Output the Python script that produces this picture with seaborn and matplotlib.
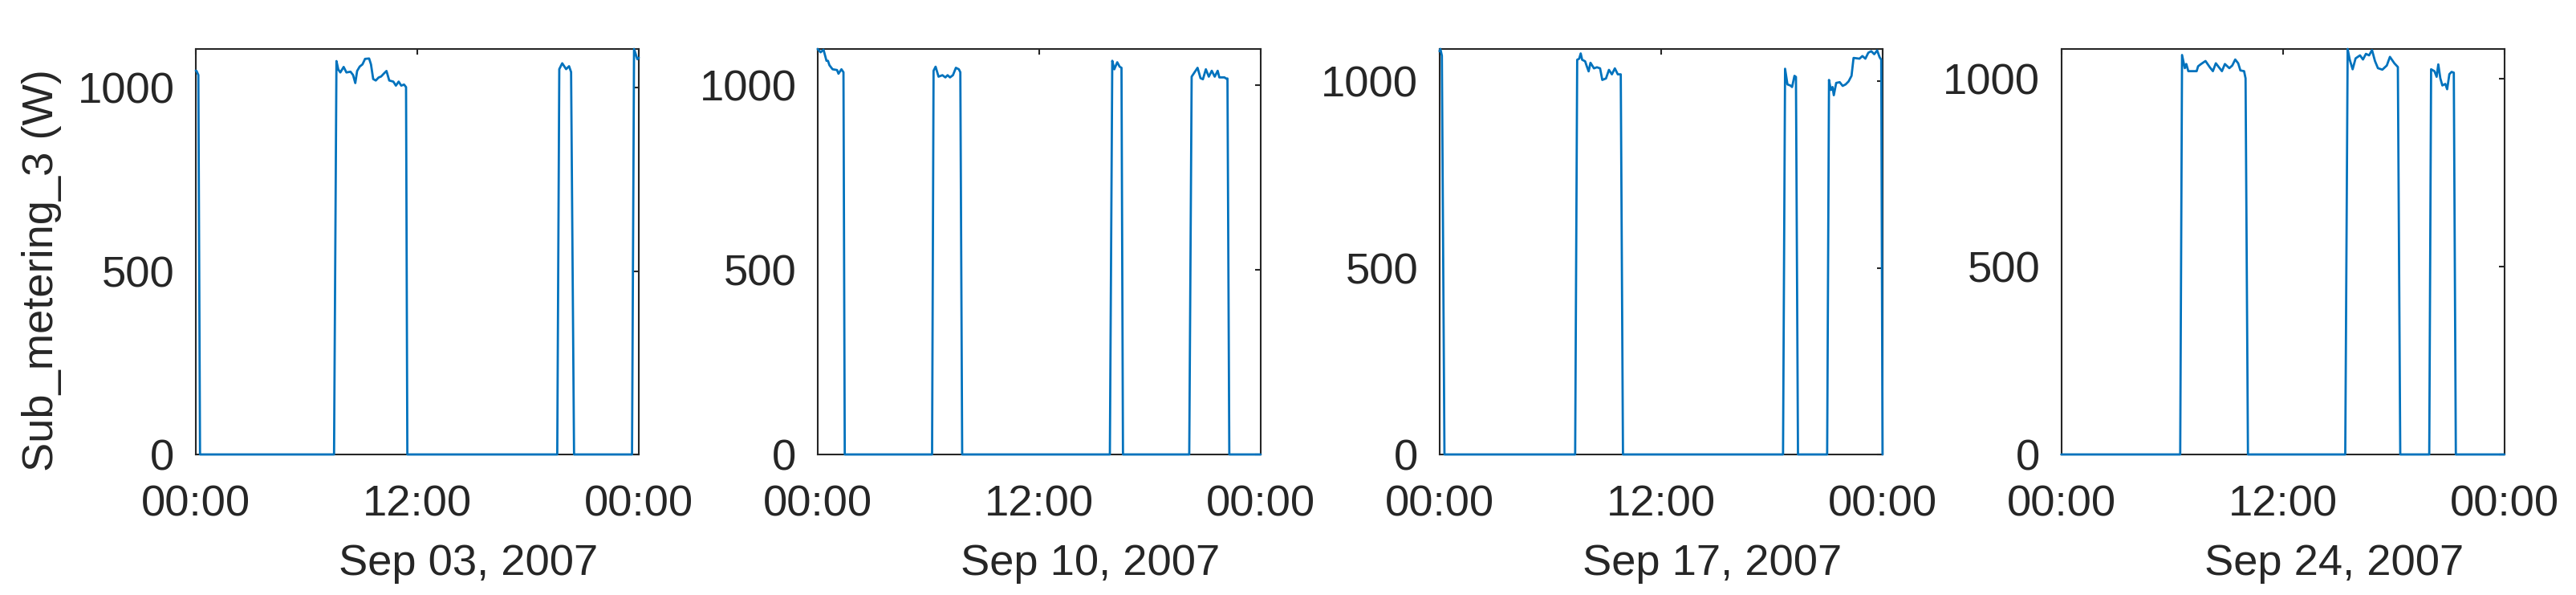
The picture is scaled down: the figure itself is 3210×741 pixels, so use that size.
import numpy as np
import pandas as pd
import matplotlib
matplotlib.use("Agg")
import matplotlib.pyplot as plt
import seaborn as sns

# day labels and hour ticks
days = ["Sep 03, 2007", "Sep 10, 2007", "Sep 17, 2007", "Sep 24, 2007"]
hour_ticks = [0, 12, 24]
hour_labels = ["00:00", "12:00", "00:00"]
watt_ticks = [0, 500, 1000]

# Sub_metering_3 readings (hour of day, watts)
hours_0903 = [0.00, 0.04, 0.14, 0.23, 7.49, 7.62, 7.72, 7.83, 8.01, 8.16, 8.38, 8.52, 8.64,
              8.74, 8.88, 9.03, 9.17, 9.39, 9.49, 9.61, 9.75, 9.90, 10.04, 10.19, 10.33,
              10.48, 10.70, 10.84, 10.99, 11.13, 11.28, 11.39, 11.46, 19.58, 19.69, 19.85,
              20.06, 20.22, 20.33, 20.49, 23.63, 23.74, 23.92, 24.00]
watts_0903 = [1047, 1046, 1035, 0, 0, 1073, 1050, 1042, 1057, 1042, 1044, 1035, 1013,
              1046, 1058, 1064, 1079, 1080, 1064, 1024, 1020, 1028, 1031, 1039, 1046,
              1020, 1017, 1006, 1017, 1006, 1009, 1002, 0, 0, 1051, 1067,
              1051, 1059, 1043, 0, 0, 1106, 1078, 1082]

hours_0910 = [0.00, 0.16, 0.32, 0.48, 0.56, 0.64, 0.81, 1.05, 1.13, 1.29, 1.40, 1.47,
              6.20, 6.28, 6.39, 6.55, 6.76, 6.92, 7.04, 7.17, 7.33, 7.49, 7.65, 7.73, 7.83,
              15.83, 15.96, 16.07, 16.23, 16.36, 16.46, 16.54,
              20.13, 20.26, 20.42, 20.58, 20.74, 20.87, 21.03, 21.19, 21.35, 21.51, 21.67,
              21.76, 22.04, 22.12, 22.20, 22.30, 24.00]
watts_0910 = [1098, 1089, 1096, 1066, 1066, 1054, 1043, 1041, 1031, 1043, 1035, 0,
              0, 1039, 1050, 1023, 1027, 1021, 1027, 1021, 1027, 1047, 1043, 1035, 0,
              0, 1066, 1043, 1062, 1050, 1047, 0,
              0, 1023, 1035, 1047, 1019, 1016, 1043, 1023, 1039, 1023, 1039,
              1021, 1021, 1018, 1018, 0, 0]

hours_0917 = [0.00, 0.05, 0.13, 0.27, 7.35, 7.46, 7.57, 7.65, 7.73, 7.89, 7.97, 8.08, 8.18,
              8.37, 8.53, 8.70, 8.82, 9.02, 9.18, 9.34, 9.50, 9.66, 9.82, 9.94,
              18.61, 18.72, 18.85, 19.01, 19.10, 19.23, 19.31, 19.42,
              21.00, 21.10, 21.20, 21.29, 21.36, 21.49, 21.68, 21.84, 22.00, 22.16, 22.32,
              22.43, 22.75, 22.91, 23.07, 23.23, 23.39, 23.55, 23.71, 23.84, 23.93, 24.00]
watts_0917 = [1081, 1087, 1069, 0, 0, 1058, 1061, 1075, 1058, 1054, 1042, 1027, 1050,
              1035, 1038, 1035, 1004, 1008, 1031, 1019, 1035, 1019, 1019, 0,
              0, 1034, 992, 989, 985, 1015, 1012, 0,
              0, 1004, 977, 985, 963, 996, 998, 988, 992, 1000, 1015,
              1063, 1061, 1068, 1061, 1077, 1081, 1073, 1083, 1065, 1058, 0]

hours_0924 = [0.00, 6.44, 6.54, 6.69, 6.77, 6.88, 7.33, 7.41, 7.57, 7.81, 8.05, 8.21, 8.37,
              8.70, 8.86, 9.10, 9.26, 9.42, 9.58, 9.70, 9.90, 9.98, 10.11,
              15.38, 15.51, 15.62, 15.78, 15.94, 16.18, 16.34, 16.50, 16.67, 16.83, 16.99,
              17.15, 17.39, 17.63, 17.80, 18.04, 18.23, 18.36,
              19.93, 20.03, 20.21, 20.33, 20.42, 20.53, 20.64, 20.80, 20.90, 21.02, 21.14,
              21.26, 21.37, 24.00]
watts_0924 = [0, 0, 1062, 1027, 1038, 1019, 1019, 1032, 1038, 1046, 1029, 1019, 1040,
              1019, 1038, 1027, 1034, 1050, 1040, 1021, 1019, 1000, 0,
              0, 1078, 1050, 1024, 1053, 1061, 1050, 1065, 1061, 1075, 1046,
              1027, 1023, 1034, 1057, 1040, 1030, 0,
              0, 1024, 1019, 1004, 1037, 1000, 981, 985, 971, 1011, 1017,
              1015, 0, 0]

series = [(hours_0903, watts_0903), (hours_0910, watts_0910),
          (hours_0917, watts_0917), (hours_0924, watts_0924)]

sns.set_theme(style="white")
plt.rcParams["font.family"] = ["Liberation Sans", "DejaVu Sans"]
ink = "#262626"
fs = 19.6

fig = plt.figure(figsize=(16.05, 3.705), dpi=200)
fig.patch.set_facecolor("white")

left0, step, w = 0.0760, 0.2414, 0.1720
bottom, h = 0.2362, 0.6815

for i, (day, (hrs, w_vals)) in enumerate(zip(days, series)):
    ax = fig.add_axes([left0 + i * step, bottom, w, h])
    df = pd.DataFrame({"hour": hrs, "watts": w_vals})
    sns.lineplot(data=df, x="hour", y="watts", ax=ax, color="#0072BD",
                 linewidth=1.0, estimator=None, sort=False, zorder=3)
    for ln in ax.lines:
        ln.set_clip_on(False)

    ax.set_xlim(0, 24)
    ax.set_ylim(0, max(w_vals))
    ax.set_xticks(hour_ticks)
    ax.set_xticklabels(hour_labels)
    ax.set_yticks(watt_ticks)
    ax.tick_params(axis="both", direction="in", length=2.6, width=0.75,
                   top=True, right=True, colors=ink, labelsize=fs, labelcolor=ink)
    ax.tick_params(axis="x", pad=13.5)
    ax.tick_params(axis="y", pad=9.5)
    for sp in ax.spines.values():
        sp.set_visible(True)
        sp.set_color(ink)
        sp.set_linewidth(0.75)

    ax.set_xlabel(day, fontsize=fs, color=ink)
    ax.xaxis.set_label_coords(0.616, -0.22)
    if i == 0:
        ax.set_ylabel("Sub_metering_3 (W)", fontsize=fs, color=ink)
        ax.yaxis.set_label_coords(-0.3025, 0.4535)
    else:
        ax.set_ylabel("")

fig.savefig("out.png", dpi=200, facecolor="white")
